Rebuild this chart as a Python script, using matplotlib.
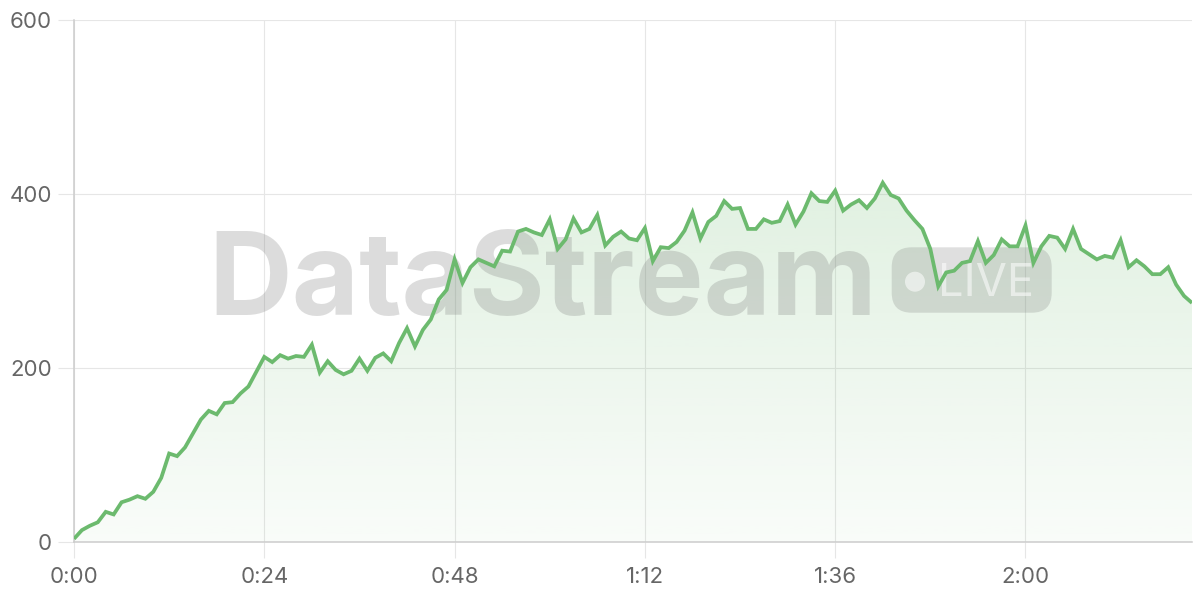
import numpy as np
import matplotlib
matplotlib.use("Agg")
from matplotlib import pyplot as plt
from matplotlib.patches import FancyBboxPatch, Circle
from matplotlib.ticker import FuncFormatter

# viewers per second of the stream
values = [4, 14, 19, 23, 35, 32, 46, 49, 53, 50,
          58, 74, 102, 99, 109, 125, 141, 151, 147, 160,
          161, 171, 179, 196, 213, 207, 215, 211, 214, 213,
          227, 195, 208, 198, 193, 197, 211, 197, 212, 217,
          208, 229, 246, 225, 244, 256, 279, 290, 325, 298,
          316, 325, 321, 317, 335, 334, 357, 360, 356, 353,
          371, 337, 348, 372, 356, 360, 376, 341, 351, 357,
          349, 347, 361, 323, 339, 338, 345, 358, 379, 349,
          368, 375, 392, 383, 384, 360, 360, 371, 367, 369,
          388, 365, 380, 401, 392, 391, 404, 381, 388, 393,
          384, 395, 413, 399, 395, 381, 370, 360, 337, 294,
          310, 312, 321, 323, 346, 321, 330, 348, 340, 340,
          364, 321, 340, 352, 350, 337, 360, 337, 331, 325,
          329, 327, 347, 316, 324, 317, 308, 308, 316, 296,
          283, 275]
seconds = np.arange(len(values))
x_ticks = [0, 24, 48, 72, 96, 120]
y_ticks = [0, 200, 400, 600]

line_color = "#6cba6e"
grid_color = "#e6e6e6"
axis_color = "#cccccc"
label_color = "#666666"

plt.rcParams['font.family'] = ['Inter', 'DejaVu Sans']

fig = plt.figure(figsize=(12, 6), dpi=100)
ax = fig.add_axes([74 / 1200, 1 - 542.3 / 600, 1118 / 1200, 522.3 / 600])

ax.set_xlim(0, seconds[-1])
ax.set_ylim(0, 600)

# gradient fill under the line
poly = ax.fill_between(seconds, values, 0, facecolor="none", edgecolor="none")
rgb = matplotlib.colors.to_rgb(line_color)
grad = np.linspace(0.28, 0.04, 256)
img = np.zeros((256, 1, 4))
img[:, 0, :3] = rgb
img[:, 0, 3] = grad
im = ax.imshow(img, extent=[0, seconds[-1], 0, 600], aspect="auto",
               origin="upper", zorder=1, interpolation="bilinear")
im.set_clip_path(poly.get_paths()[0], ax.transData)

ax.plot(seconds, values, color=line_color, lw=2.7, zorder=4,
        solid_joinstyle="miter", solid_capstyle="butt")

# watermark
tr = fig.dpi_scale_trans
ax.text(2.08, 6 - 3.15, "DataStream", transform=tr, fontsize=83.5,
        fontweight="bold", color="#707070", alpha=0.24, ha="left",
        va="baseline", zorder=3, clip_on=False)
box = FancyBboxPatch((8.917, 2.873), 1.6, 0.654,
                     boxstyle="round,pad=0,rounding_size=0.2",
                     transform=tr, facecolor="#707070", edgecolor="none",
                     alpha=0.22, zorder=3, clip_on=False)
ax.add_patch(box)
ax.add_patch(Circle((9.15, 3.183), 0.1, transform=tr, facecolor="white",
                    edgecolor="none", alpha=0.55, zorder=3, clip_on=False))
ax.text(9.38, 3.04, "LIVE", transform=tr, fontsize=32.5, color="white",
        alpha=0.55, ha="left", va="baseline", zorder=3, clip_on=False)

# axes styling
ax.set_xticks(x_ticks)
ax.set_yticks(y_ticks)
ax.xaxis.set_major_formatter(FuncFormatter(lambda v, p: f"{int(v) // 60}:{int(v) % 60:02d}"))
ax.grid(True, color=grid_color, lw=0.8, zorder=0)
ax.set_axisbelow(True)
for s in ["top", "right"]:
    ax.spines[s].set_visible(False)
for s in ["left", "bottom"]:
    ax.spines[s].set_color(axis_color)
    ax.spines[s].set_linewidth(1.1)
ax.tick_params(axis="both", length=11.5, width=0.8, color=grid_color,
               labelcolor=label_color, labelsize=16)
ax.tick_params(axis="x", pad=6)
ax.tick_params(axis="y", pad=4.3)
ax.xaxis.get_major_ticks()[0].tick1line.set_color(axis_color)
ax.yaxis.get_major_ticks()[0].tick1line.set_color(axis_color)

fig.savefig("out.png", dpi=100)
